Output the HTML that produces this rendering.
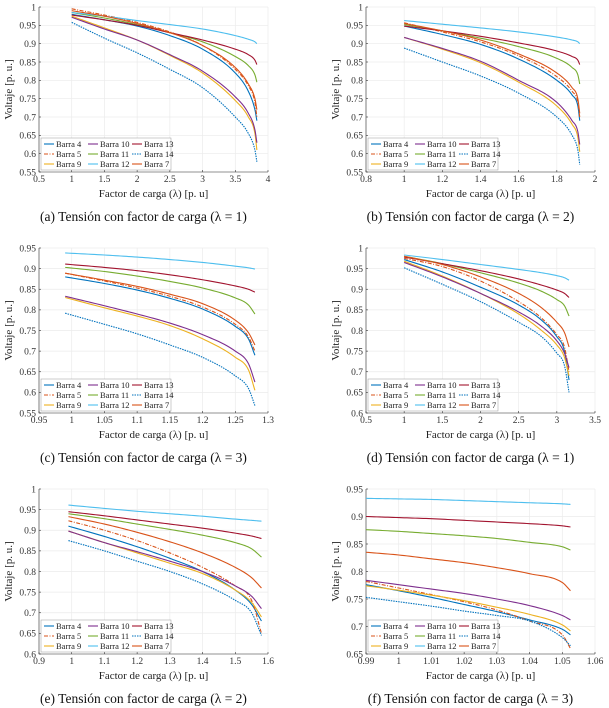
<!DOCTYPE html>
<html><head><meta charset="utf-8">
<style>
html,body{margin:0;padding:0;background:#fff;}
svg{display:block;font-family:"Liberation Serif",serif;}
</style></head>
<body>
<svg id="fig" width="609" height="708" viewBox="0 0 609 708" xmlns="http://www.w3.org/2000/svg"></svg>
<script>
const seriesNames = ["Barra 4","Barra 5","Barra 9","Barra 10","Barra 11","Barra 12","Barra 13","Barra 14","Barra 7"];

const xA = [1,1.5,2,2.5,3,3.5,3.7,3.8,3.83];
const vA = [
 [0.98,0.965,0.948,0.922,0.885,0.82,0.77,0.72,0.69],
 [0.995,0.978,0.958,0.932,0.895,0.83,0.785,0.74,0.70],
 [0.975,0.943,0.91,0.868,0.82,0.745,0.70,0.655,0.61],
 [0.972,0.94,0.91,0.87,0.825,0.755,0.71,0.665,0.63],
 [0.985,0.97,0.952,0.93,0.905,0.865,0.84,0.815,0.795],
 [0.985,0.975,0.963,0.952,0.94,0.922,0.912,0.905,0.90],
 [0.978,0.965,0.95,0.93,0.91,0.885,0.87,0.855,0.843],
 [0.958,0.915,0.875,0.83,0.78,0.70,0.655,0.61,0.578],
 [0.99,0.975,0.955,0.93,0.895,0.835,0.79,0.75,0.72]];
const xB = [1,1.2,1.4,1.6,1.8,1.88,1.91,1.92];
const vB = [
 [0.948,0.925,0.898,0.858,0.80,0.76,0.73,0.69],
 [0.957,0.932,0.905,0.867,0.81,0.77,0.74,0.70],
 [0.917,0.885,0.848,0.795,0.73,0.68,0.645,0.605],
 [0.917,0.887,0.852,0.80,0.74,0.69,0.66,0.625],
 [0.952,0.935,0.915,0.892,0.86,0.835,0.815,0.79],
 [0.963,0.953,0.943,0.932,0.918,0.91,0.905,0.90],
 [0.948,0.935,0.92,0.902,0.88,0.865,0.855,0.843],
 [0.888,0.85,0.812,0.765,0.70,0.65,0.61,0.57],
 [0.955,0.935,0.91,0.872,0.82,0.78,0.75,0.71]];
const xC = [0.99,1.05,1.1,1.15,1.2,1.25,1.27,1.28];
const vC = [
 [0.88,0.864,0.848,0.828,0.802,0.76,0.73,0.69],
 [0.889,0.87,0.853,0.833,0.807,0.765,0.735,0.70],
 [0.83,0.805,0.785,0.762,0.73,0.685,0.655,0.605],
 [0.833,0.81,0.79,0.768,0.74,0.70,0.67,0.625],
 [0.903,0.893,0.882,0.869,0.853,0.829,0.812,0.79],
 [0.938,0.933,0.928,0.922,0.915,0.906,0.902,0.899],
 [0.911,0.903,0.895,0.885,0.873,0.858,0.85,0.843],
 [0.792,0.765,0.742,0.715,0.685,0.64,0.61,0.568],
 [0.889,0.872,0.857,0.838,0.815,0.775,0.745,0.715]];
const xD = [1,1.5,2,2.5,2.8,3,3.1,3.16];
const vD = [
 [0.972,0.942,0.905,0.862,0.825,0.785,0.75,0.68],
 [0.975,0.955,0.92,0.87,0.83,0.79,0.76,0.70],
 [0.968,0.932,0.89,0.84,0.80,0.765,0.735,0.69],
 [0.965,0.93,0.89,0.845,0.81,0.775,0.745,0.71],
 [0.98,0.962,0.94,0.915,0.895,0.875,0.86,0.835],
 [0.983,0.972,0.96,0.948,0.94,0.933,0.928,0.922],
 [0.978,0.962,0.945,0.925,0.91,0.898,0.89,0.88],
 [0.952,0.912,0.87,0.82,0.785,0.745,0.715,0.65],
 [0.98,0.96,0.93,0.89,0.855,0.82,0.795,0.76]];
const xE = [0.99,1.1,1.2,1.3,1.4,1.5,1.55,1.58];
const vE = [
 [0.91,0.885,0.86,0.832,0.80,0.755,0.72,0.68],
 [0.923,0.90,0.875,0.845,0.81,0.765,0.73,0.65],
 [0.898,0.87,0.845,0.82,0.795,0.755,0.725,0.69],
 [0.898,0.87,0.848,0.825,0.80,0.765,0.74,0.71],
 [0.94,0.928,0.915,0.902,0.888,0.87,0.855,0.835],
 [0.961,0.953,0.946,0.94,0.934,0.927,0.924,0.922],
 [0.945,0.935,0.925,0.915,0.905,0.893,0.886,0.88],
 [0.875,0.85,0.825,0.80,0.77,0.73,0.70,0.645],
 [0.933,0.915,0.895,0.872,0.845,0.81,0.785,0.76]];
const xF = [0.99,1.0,1.01,1.02,1.03,1.04,1.05,1.0525];
const vF = [
 [0.776,0.765,0.753,0.74,0.727,0.712,0.695,0.685],
 [0.782,0.77,0.758,0.745,0.73,0.71,0.685,0.66],
 [0.774,0.766,0.757,0.747,0.735,0.722,0.703,0.692],
 [0.784,0.776,0.768,0.76,0.75,0.738,0.72,0.712],
 [0.876,0.873,0.869,0.865,0.86,0.853,0.845,0.839],
 [0.933,0.932,0.931,0.929,0.927,0.925,0.923,0.922],
 [0.90,0.898,0.896,0.893,0.89,0.887,0.883,0.881],
 [0.753,0.745,0.737,0.728,0.72,0.71,0.68,0.665],
 [0.835,0.83,0.823,0.816,0.807,0.796,0.78,0.765]];

const xtA = [0.5,1,1.5,2,2.5,3,3.5,4];
const xtB = [0.8,1,1.2,1.4,1.6,1.8,2];
const xtC = [0.95,1,1.05,1.1,1.15,1.2,1.25,1.3];
const xtD = [0.5,1,1.5,2,2.5,3,3.5];
const xtE = [0.9,1,1.1,1.2,1.3,1.4,1.5,1.6];
const xtF = [0.99,1,1.01,1.02,1.03,1.04,1.05,1.06];
const ytA = [0.55,0.6,0.65,0.7,0.75,0.8,0.85,0.9,0.95,1];
const ytC = [0.55,0.6,0.65,0.7,0.75,0.8,0.85,0.9,0.95];
const ytD = [0.6,0.65,0.7,0.75,0.8,0.85,0.9,0.95,1];
const ytF = [0.65,0.7,0.75,0.8,0.85,0.9,0.95];
const captions = ["(a) Tensión con factor de carga (λ = 1)","(b) Tensión con factor de carga (λ = 2)","(c) Tensión con factor de carga (λ = 3)","(d) Tensión con factor de carga (λ = 1)","(e) Tensión con factor de carga (λ = 2)","(f) Tensión con factor de carga (λ = 3)"];

const colors = ["#0072BD","#D95319","#EDB120","#7E2F8E","#77AC30","#4DBEEE","#A2142F","#0072BD","#D95319"];
const dashes = ["","4,1.5,1,1.5","","","","","","1.5,1","" ];
const NS = "http://www.w3.org/2000/svg";
const svg = document.getElementById("fig");
function mk(tag, attrs, parent){ const e=document.createElementNS(NS,tag); for(const k in attrs) e.setAttribute(k,attrs[k]); (parent||svg).appendChild(e); return e; }
function fmt(v){ return String(+v.toFixed(3)); }

// monotone cubic (Fritsch-Carlson) interpolation
function monotone(xs, ys){
  const n=xs.length, d=[], m=new Array(n);
  for(let i=0;i<n-1;i++) d.push((ys[i+1]-ys[i])/(xs[i+1]-xs[i]));
  m[0]=d[0]; m[n-1]=d[n-2];
  for(let i=1;i<n-1;i++) m[i]=(d[i-1]*d[i]<=0)?0:(d[i-1]+d[i])/2;
  for(let i=0;i<n-1;i++){
    if(d[i]===0){m[i]=0;m[i+1]=0;continue;}
    const a=m[i]/d[i], b=m[i+1]/d[i], s=a*a+b*b;
    if(s>9){const t=3/Math.sqrt(s); m[i]=t*a*d[i]; m[i+1]=t*b*d[i];}
  }
  const out=[];
  for(let i=0;i<n-1;i++){
    const h=xs[i+1]-xs[i], N=12;
    for(let k=(i===0?0:1);k<=N;k++){
      const t=k/N, t2=t*t, t3=t2*t;
      const y=(2*t3-3*t2+1)*ys[i]+(t3-2*t2+t)*h*m[i]+(-2*t3+3*t2)*ys[i+1]+(t3-t2)*h*m[i+1];
      out.push([xs[i]+t*h,y]);
    }
  }
  return out;
}

const panels = [
 {id:"a",L:39,T:7,xt:xtA,yt:ytA,xs:xA,vs:vA},
 {id:"b",L:366,T:7,xt:xtB,yt:ytA,xs:xB,vs:vB},
 {id:"c",L:39,T:248,xt:xtC,yt:ytC,xs:xC,vs:vC},
 {id:"d",L:366,T:248,xt:xtD,yt:ytD,xs:xD,vs:vD},
 {id:"e",L:39,T:489,xt:xtE,yt:ytD,xs:xE,vs:vE},
 {id:"f",L:366,T:489,xt:xtF,yt:ytF,xs:xF,vs:vF}];
const W=229, H=165;

panels.forEach((p,pi)=>{
  const g = mk("g",{});
  
  
  const x0=p.xt[0], x1=p.xt[p.xt.length-1], y0=p.yt[0], y1=p.yt[p.yt.length-1];
  const sx=v=>p.L+(v-x0)/(x1-x0)*W;
  const sy=v=>p.T+H-(v-y0)/(y1-y0)*H;
  p.xt.forEach(t=>{ const l=mk("line",{x1:sx(t),x2:sx(t),y1:p.T,y2:p.T+H,stroke:"#ebebeb","stroke-width":0.7},g);   });
  p.yt.forEach(t=>{ const l=mk("line",{x1:p.L,x2:p.L+W,y1:sy(t),y2:sy(t),stroke:"#ebebeb","stroke-width":0.7},g);   });
  const ax=mk("path",{d:`M${p.L},${p.T}V${p.T+H}H${p.L+W}`,stroke:"#333",fill:"none","stroke-width":0.6},g);
   
  p.xt.forEach(t=>{ mk("line",{x1:sx(t),x2:sx(t),y1:p.T+H,y2:p.T+H-2,stroke:"#333","stroke-width":0.6},g);
    const tx=mk("text",{x:sx(t),y:p.T+H+10,"font-size":9.5,"text-anchor":"middle",fill:"#333"},g); tx.textContent=fmt(t);
      });
  p.yt.forEach(t=>{ mk("line",{x1:p.L,x2:p.L+2,y1:sy(t),y2:sy(t),stroke:"#333","stroke-width":0.6},g);
    const tx=mk("text",{x:p.L-3,y:sy(t)+3.3,"font-size":9.5,"text-anchor":"end",fill:"#333"},g); tx.textContent=fmt(t);
      });
  const xl=mk("text",{x:p.L+W/2,y:p.T+H+25,"font-size":11,"text-anchor":"middle",fill:"#222"},g); xl.textContent="Factor de  carga (λ) [p. u]";
   
  const yx=p.L-27, yy=p.T+H/2;
  const yl=mk("text",{x:yx,y:yy,"font-size":11,"text-anchor":"middle",fill:"#222",transform:`rotate(-90 ${yx} ${yy})`},g); yl.textContent="Voltaje [p. u.]";
   
  p.vs.forEach((vals,si)=>{
    const pts=monotone(p.xs, vals);
    const d="M"+pts.map(q=>sx(q[0]).toFixed(2)+","+sy(q[1]).toFixed(2)).join("L");
    const a={d:d,fill:"none",stroke:colors[si],"stroke-width":1.1,"stroke-linejoin":"round"};
    if(dashes[si]) a["stroke-dasharray"]=dashes[si];
    const path=mk("path",a,g);
    
    
  });
  const lg=mk("g",{},g);
  
  
  const lx=p.L+2, ly=p.T+H-34;
  mk("rect",{x:lx,y:ly,width:130,height:32,fill:"#fff",stroke:"#999","stroke-width":0.5},lg);
  seriesNames.forEach((n,si)=>{
    const c=Math.floor(si/3), r=si%3;
    const ex=lx+3+c*44, ey=ly+6+r*10;
    const la={x1:ex,x2:ex+10,y1:ey,y2:ey,stroke:colors[si],"stroke-width":1.1};
    if(dashes[si]) la["stroke-dasharray"]=dashes[si];
    mk("line",la,lg);
    const t=mk("text",{x:ex+12,y:ey+3,"font-size":8.5,fill:"#222"},lg); t.textContent=n;
     
  });
  const cap=mk("text",{x:p.L+W/2-10,y:p.T+H+49,"font-size":13.5,"text-anchor":"middle",fill:"#111"},g); cap.textContent=captions[pi];
   
});
</script>
</body></html>
